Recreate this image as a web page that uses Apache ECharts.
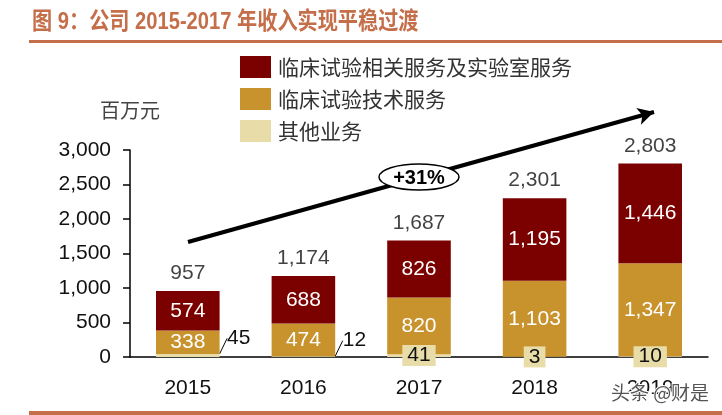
<!DOCTYPE html>
<html><head><meta charset="utf-8">
<script src="https://cdn.jsdelivr.net/npm/echarts@6/dist/echarts.min.js"></script>
<style>html,body{margin:0;padding:0;background:#fff}#c{width:722px;height:415px}</style>
</head><body><div id="c"></div>
<script>
var categories = ['2015', '2016', '2017', '2018', '2019'];
var labServices = [574, 688, 826, 1195, 1446];
var techServices = [338, 474, 820, 1103, 1347];
var otherBusiness = [45, 12, 41, 3, 10];
var totals = [957, 1174, 1687, 2301, 2803];
var yTicks = {min: 0, max: 3000, interval: 500};
var names = ['临床试验相关服务及实验室服务', '临床试验技术服务', '其他业务'];
var titleText = '图 9：公司 2015-2017 年收入实现平稳过渡';
var growthText = '+31%';

var FONT = '"Liberation Sans", Arial, "Noto Sans CJK SC", sans-serif';
var CJK = '"Noto Sans CJK SC", sans-serif';
function fmt(v) { return String(v).replace(/\B(?=(\d{3})+(?!\d))/g, ','); }

var chart = echarts.init(document.getElementById('c'));
var otherData = otherBusiness.map(function (v, i) {
  var item = {value: v};
  if (i < 2) {
    item.label = {show: true, position: 'top', color: '#111', backgroundColor: 'transparent', padding: 0};
  }
  return item;
});

chart.setOption({
  animation: false,
  textStyle: {fontFamily: FONT},
  legend: {
    data: names,
    orient: 'vertical',
    left: 235, top: 51,
    itemWidth: 31, itemHeight: 22, itemGap: 10,
    icon: 'rect',
    textStyle: {fontSize: 21, color: '#333', fontFamily: CJK, padding: [0, 0, 0, 2]}
  },
  grid: {left: 130, right: 14, top: 150, bottom: 58},
  xAxis: {
    type: 'category', data: categories,
    axisLine: {lineStyle: {color: '#000', width: 1.5}},
    axisTick: {show: false},
    axisLabel: {fontSize: 21, color: '#111', margin: 21}
  },
  yAxis: {
    type: 'value', min: yTicks.min, max: yTicks.max, interval: yTicks.interval,
    name: '百万元', nameLocation: 'end', nameGap: 30,
    nameTextStyle: {fontSize: 20, color: '#444', fontFamily: CJK},
    axisLine: {show: true, lineStyle: {color: '#000', width: 1.5}},
    axisTick: {show: true, length: 7, lineStyle: {color: '#000', width: 1.5}},
    splitLine: {show: false},
    axisLabel: {fontSize: 21, color: '#111', margin: 19, formatter: function (v) { return fmt(v); }}
  },
  series: [
    {
      name: names[2], type: 'bar', stack: 's', barWidth: '55%',
      itemStyle: {color: '#E8DCA8'},
      data: otherData,
      label: {
        show: true, position: 'inside', color: '#111', fontSize: 21,
        backgroundColor: '#E8DCA8', padding: [1, 5, -1, 5]
      },
      labelLayout: function (p) {
        if (p.dataIndex < 2) { return {dx: 51, dy: 0}; }
        return {};
      },
      labelLine: {show: true, lineStyle: {color: '#000', width: 1}, length2: 0}
    },
    {
      name: names[1], type: 'bar', stack: 's', barWidth: '55%',
      itemStyle: {color: '#C8922C'},
      data: techServices,
      label: {show: true, position: 'inside', color: '#fff', fontSize: 21, formatter: function (p) { return fmt(p.value); }}
    },
    {
      name: names[0], type: 'bar', stack: 's', barWidth: '55%',
      itemStyle: {color: '#7B0000'},
      data: labServices,
      label: {show: true, position: 'inside', color: '#fff', fontSize: 21, formatter: function (p) { return fmt(p.value); }},
      markLine: {
        silent: true, symbol: ['none', 'arrow'], symbolSize: [13, 16],
        label: {show: false},
        lineStyle: {color: '#000', width: 4, type: 'solid'},
        data: [[{x: 188, y: 242}, {x: 654, y: 112}]]
      }
    },
    {
      type: 'scatter', data: totals, symbolSize: 0.1, z: 5,
      label: {show: true, position: 'top', distance: 7, color: '#111', fontSize: 21, formatter: function (p) { return fmt(p.value); }}
    }
  ],
  graphic: [
    {type: 'text', z: 100, x: 32, y: 22, scaleX: 0.84, style: {text: titleText, fontSize: 24, fontWeight: 'bold', fill: '#C46E4A', verticalAlign: 'middle', fontFamily: FONT}},
    {type: 'ellipse', z: 100, shape: {cx: 419, cy: 177, rx: 40, ry: 13}, style: {fill: '#fff', stroke: '#000', lineWidth: 1.5}},
    {type: 'text', z: 101, x: 419, y: 178, style: {text: growthText, fontSize: 20, fontWeight: 'bold', fill: '#000', align: 'center', verticalAlign: 'middle', fontFamily: FONT}},
    {type: 'rect', z: 100, shape: {x: 29, y: 40, width: 693, height: 3}, style: {fill: '#C46E4A'}},
    {type: 'rect', z: 100, shape: {x: 29, y: 411, width: 693, height: 4}, style: {fill: '#C46E4A'}},
    {type: 'text', z: 102, x: 660, y: 393, style: {text: '头条 @财是', fontSize: 19, fill: '#555', stroke: '#fff', lineWidth: 2, align: 'center', verticalAlign: 'middle', fontFamily: CJK}}
  ]
});
</script></body></html>
